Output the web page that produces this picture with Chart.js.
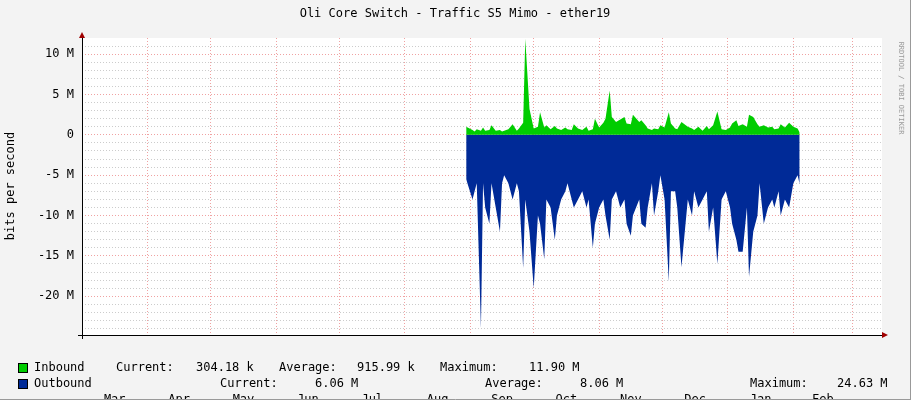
<!DOCTYPE html>
<html><head><meta charset="utf-8">
<script src="https://cdn.jsdelivr.net/npm/chart.js@4"></script>
<style>html,body{margin:0;padding:0;background:#f3f3f3}canvas{display:block}</style>
</head><body>
<canvas id="c" width="911" height="400"></canvas>
<script>
const title = "Oli Core Switch - Traffic S5 Mimo - ether19";
const monthStarts = [0,31,61,92,122,153,184,214,245,275,306,337,365];
const monthLabels = ["Mar","Apr","May","Jun","Jul","Aug","Sep","Oct","Nov","Dec","Jan","Feb","Mar"];
const days = [182,185,186,187,189,190,191,193,194,196,198,199,200,202,204,206,207,209,210,212,214,216,217,219,220,222,224,225,227,229,230,232,233,235,237,239,240,242,243,245,247,248,250,251,253,255,257,258,260,261,264,265,267,268,270,271,273,274,276,278,279,281,282,284,287,289,290,292,294,296,297,299,301,303,305,307,308,310,311,313,315,316,318,320,321,323,325,327,328,330,331,333,335,337,339,340];
const outbound = [-5.5,-8,-7,-6,-24,-6,-9,-11,-6,-9,-12,-6,-5,-6,-8,-6,-7,-16.5,-8,-12,-19,-10,-11,-15.4,-8,-9,-13,-10,-8,-7,-6,-8,-9,-8,-7,-9,-8,-14,-11,-9,-8,-10,-13,-8,-7,-9,-8,-11,-12.5,-10,-8,-11,-11.5,-9,-6,-10,-7,-5,-8,-18.2,-7,-7,-9,-16.4,-8,-10,-7,-9,-8,-7,-12,-9,-16,-8,-7,-9,-11,-13,-14.5,-14.5,-9,-17.6,-12,-10,-6,-11,-9,-8,-9,-7,-10,-8,-9,-6,-5,-6.1];
const inbound = [1.0,0.6,0.4,0.7,0.5,0.9,0.5,0.6,1.2,0.5,0.6,0.4,0.5,0.7,1.3,0.5,0.8,1.5,11.9,3.2,0.8,1.0,2.8,0.9,1.2,0.7,1.1,0.8,0.6,0.9,0.7,0.6,1.3,0.8,0.6,1.0,0.5,0.7,2.0,0.9,1.5,2.0,5.5,2.2,1.6,1.9,2.2,1.4,1.3,2.5,1.6,1.8,1.2,0.8,0.6,0.8,0.7,1.2,0.9,2.8,1.4,0.8,0.7,1.6,1.0,0.8,0.6,1.0,0.5,1.1,0.7,1.2,2.9,0.7,0.6,0.9,1.4,1.8,1.1,1.3,1.0,2.5,2.2,1.3,1.0,1.2,0.9,1.0,0.7,0.8,1.3,0.9,1.5,1.0,0.8,0.3];
const legendIn = ["Inbound","Current:","304.18 k","Average:","915.99 k","Maximum:","11.90 M"];
const legendOut = ["Outbound","Current:","6.06 M","Average:","8.06 M","Maximum:","24.63 M"];
const F = "DejaVu Sans Mono";

const decor = {
  id:'decor',
  afterDraw(ch){
    const c=ch.ctx, a=ch.chartArea;
    c.save();
    c.fillStyle='#000'; c.font='12px "'+F+'"'; c.textAlign='center'; c.textBaseline='middle';
    c.fillText(title,455,14);
    c.save(); c.translate(11,186); c.rotate(-Math.PI/2); c.fillText("bits per second",0,0); c.restore();
    c.save(); c.fillStyle='#999'; c.font='7px "'+F+'"'; c.translate(901,88); c.rotate(Math.PI/2); c.fillText("RRDTOOL / TOBI OETIKER",0,0); c.restore();
    c.fillStyle='#a00000';
    c.beginPath(); c.moveTo(a.right+6,a.bottom); c.lineTo(a.right,a.bottom-3); c.lineTo(a.right,a.bottom+3); c.fill();
    c.beginPath(); c.moveTo(a.left,a.top-6); c.lineTo(a.left-3,a.top); c.lineTo(a.left+3,a.top); c.fill();
    c.strokeStyle='#000'; c.lineWidth=1;
    c.beginPath(); c.moveTo(a.left-4,a.bottom+0.5); c.lineTo(a.right,a.bottom+0.5); c.stroke();
    c.beginPath(); c.moveTo(a.left+0.5,a.top); c.lineTo(a.left+0.5,a.bottom+4); c.stroke();
    c.textAlign='left'; c.font='12px "'+F+'"'; c.fillStyle='#000';
    const xi=[34,116,196,279,357,440,529], xo=[34,220,315,485,580,750,837];
    legendIn.forEach((t,i)=>c.fillText(t,xi[i],368));
    legendOut.forEach((t,i)=>c.fillText(t,xo[i],384));
    c.fillStyle='#00cc00'; c.fillRect(18,363,9,9); c.strokeStyle='#000'; c.strokeRect(18.5,363.5,9,9);
    c.fillStyle='#002a97'; c.fillRect(18,379,9,9); c.strokeRect(18.5,379.5,9,9);
    c.strokeStyle='#999'; c.beginPath(); c.moveTo(0,399.5); c.lineTo(911,399.5); c.moveTo(910.5,0); c.lineTo(910.5,400); c.stroke();
    c.restore();
  }
};
const bg = {id:'bg',beforeDraw(ch){const c=ch.ctx,a=ch.chartArea;c.save();c.fillStyle='#f3f3f3';c.fillRect(0,0,911,400);c.fillStyle='#fff';c.fillRect(a.left,a.top,a.right-a.left,a.bottom-a.top);c.restore();}};

new Chart(document.getElementById('c'),{
  type:'line',
  data:{datasets:[
    {label:'Inbound',data:days.map((d,i)=>({x:d,y:inbound[i]})),backgroundColor:'#00cc00',borderColor:'#00cc00',borderWidth:0,fill:'origin',pointRadius:0,tension:0},
    {label:'Outbound',data:days.map((d,i)=>({x:d,y:outbound[i]})),backgroundColor:'#002a97',borderColor:'#002a97',borderWidth:0,fill:'origin',pointRadius:0,tension:0}
  ]},
  options:{
    responsive:false,animation:false,
    layout:{padding:{top:38,right:29,left:0,bottom:0}},
    plugins:{legend:{display:false},tooltip:{enabled:false}},
    scales:{
      x:{type:'linear',min:0,max:379,
        afterBuildTicks(s){s.ticks=monthStarts.map(v=>({value:v}));},
        afterFit(s){s.height=44;},
        grid:{color:(ctx)=>ctx.tick&&ctx.tick.value===0?'#ddd':'rgba(230,100,100,0.6)',lineWidth:1,drawTicks:false},
        border:{display:false,dash:[1,2]},
        ticks:{display:false}},
      x2:{type:'linear',position:'bottom',min:0,max:379,
        afterBuildTicks(s){s.ticks=monthStarts.slice(0,12).map((v,i)=>({value:(v+monthStarts[i+1])/2}));},
        afterFit(s){s.height=21;},
        grid:{display:false},border:{display:false},
        ticks:{font:{family:F,size:12},color:'#000',padding:6,maxRotation:0,autoSkip:false,
          callback:(v,i)=>monthLabels[i]}},
      y:{min:-24.8,max:12,
        afterBuildTicks(s){const t=[];for(let v=-24;v<=11;v++)t.push({value:v});s.ticks=t;},
        afterFit(s){s.width=82;},
        grid:{color:(ctx)=>ctx.tick&&ctx.tick.value%5===0?'rgba(230,100,100,0.6)':'#ccc',drawTicks:false},
        border:{display:false,dash:[1,2]},
        ticks:{font:{family:F,size:12},color:'#000',padding:8,autoSkip:false,
          callback:(v)=>v%5===0?(v===0?'0':v+' M'):''}}
    }
  },
  plugins:[bg,decor]
});
</script>
</body></html>
